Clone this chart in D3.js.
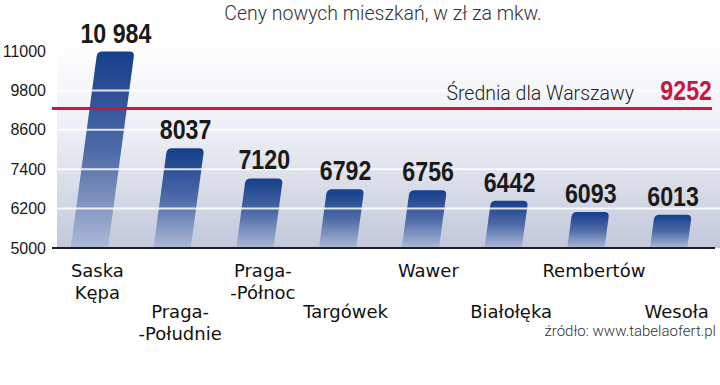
<!DOCTYPE html>
<html>
<head>
<meta charset="utf-8">
<script src="https://cdn.jsdelivr.net/npm/d3@7"></script>
<style>
  html, body { margin: 0; padding: 0; background: #fff; }
  svg { display: block; }
</style>
</head>
<body>
<svg id="chart" width="720" height="385"></svg>
<script>
// Data
const districts = ["Saska Kępa", "Praga-Południe", "Praga-Północ", "Targówek", "Wawer", "Białołęka", "Rembertów", "Wesoła"];
const labelLines = [["Saska", "Kępa"], ["Praga-", "-Południe"], ["Praga-", "-Północ"], ["Targówek"], ["Wawer"], ["Białołęka"], ["Rembertów"], ["Wesoła"]];
const prices = [10984, 8037, 7120, 6792, 6756, 6442, 6093, 6013];
const priceLabels = ["10 984", "8037", "7120", "6792", "6756", "6442", "6093", "6013"];
const yTicks = [5000, 6200, 7400, 8600, 9800, 11000];
const average = 9252;
const title = "Ceny nowych mieszkań, w zł za mkw.";
const avgLabel = "Średnia dla Warszawy";
const source = "źródło: www.tabelaofert.pl";

const W = 720, H = 385;
const base = 248;
const slope = 0.135; // bars lean right
const narrow = 0.86; // squeeze for the condensed bold numbers
const numFont = "bold 27px 'Liberation Sans', Arial, sans-serif";

const svg = d3.select("#chart");

const x = d3.scaleBand()
  .domain(districts)
  .range([48, 710])
  .paddingInner(0.55)
  .paddingOuter(0.275);

const y = d3.scaleLinear()
  .domain([5000, 11000])
  .range([base, 51]);

const defs = svg.append("defs");

const bg = defs.append("linearGradient")
  .attr("id", "bg")
  .attr("gradientUnits", "userSpaceOnUse")
  .attr("x1", 0).attr("x2", 0)
  .attr("y1", 40).attr("y2", base);
bg.append("stop").attr("offset", 0).attr("stop-color", "#ffffff");
bg.append("stop").attr("offset", 0.45).attr("stop-color", "#eceef4");
bg.append("stop").attr("offset", 1).attr("stop-color", "#c2c8db");

const barGrad = defs.append("linearGradient")
  .attr("id", "bar")
  .attr("x1", 0).attr("x2", 0)
  .attr("y1", 0).attr("y2", 1);
barGrad.append("stop").attr("offset", 0).attr("stop-color", "#163e8b");
barGrad.append("stop").attr("offset", 0.5).attr("stop-color", "#4d6aa7");
barGrad.append("stop").attr("offset", 1).attr("stop-color", "#adb9d6");

// panel background
svg.append("rect")
  .attr("x", 57)
  .attr("y", 40)
  .attr("width", W - 57)
  .attr("height", base - 40)
  .attr("fill", "url(#bg)");

// title
svg.append("text")
  .attr("x", 383)
  .attr("y", 20)
  .attr("text-anchor", "middle")
  .style("font", "300 19.5px Roboto")
  .attr("fill", "#333")
  .text(title);

// y axis labels
const yAxis = svg.append("g")
  .attr("transform", "translate(46,0)")
  .call(d3.axisLeft(y).tickValues(yTicks).tickSize(0).tickPadding(0).tickFormat(d3.format("d")));
yAxis.select(".domain").remove();
yAxis.selectAll("text")
  .style("font", "16px 'Liberation Sans', Arial, sans-serif")
  .attr("fill", "#1a1a1a");

// bars
const bw = x.bandwidth();
const r = 5;
function barPath(d, i) {
  const x0 = x(districts[i]);
  const yt = y(d);
  const h = base - yt;
  const dx = h * slope;
  const bl = x0, br = x0 + bw;
  const tl = x0 + dx, tr = x0 + bw + dx;
  return `M${bl},${base}` +
    `L${tl - slope * r},${yt + r}` +
    `Q${tl},${yt} ${tl + r},${yt}` +
    `L${tr - r},${yt}` +
    `Q${tr},${yt} ${tr - slope * r},${yt + r}` +
    `L${br},${base}Z`;
}

svg.append("g")
  .selectAll("path")
  .data(prices)
  .join("path")
  .attr("d", (d, i) => barPath(d, i))
  .attr("fill", "url(#bar)");

// gridlines (white, over the bars)
svg.append("g")
  .selectAll("line")
  .data(yTicks.filter(t => t > 5000 && t < 11000))
  .join("line")
  .attr("x1", 57)
  .attr("x2", W)
  .attr("y1", d => y(d))
  .attr("y2", d => y(d))
  .attr("stroke", "#fff")
  .attr("stroke-opacity", 0.85)
  .attr("stroke-width", 2);

// baseline
svg.append("line")
  .attr("x1", 52).attr("x2", 715)
  .attr("y1", base).attr("y2", base)
  .attr("stroke", "#1b1d2e")
  .attr("stroke-width", 2);

// average line
svg.append("line")
  .attr("x1", 52).attr("x2", 712)
  .attr("y1", y(average)).attr("y2", y(average))
  .attr("stroke", "#c8173f")
  .attr("stroke-width", 3);

svg.append("text")
  .attr("x", 634)
  .attr("y", y(average) - 8)
  .attr("text-anchor", "end")
  .style("font", "300 19.5px Roboto")
  .attr("fill", "#222")
  .text(avgLabel);

svg.append("text")
  .attr("transform", `translate(712,${y(average) - 8}) scale(${narrow},1)`)
  .attr("text-anchor", "end")
  .style("font", numFont)
  .attr("fill", "#c8173f")
  .text(average);

// value labels
svg.append("g")
  .selectAll("text")
  .data(prices)
  .join("text")
  .attr("transform", (d, i) => {
    const cx = x(districts[i]) + bw / 2 + (base - y(d)) * slope;
    return `translate(${cx},${y(d) - 9}) scale(${narrow},1)`;
  })
  .attr("text-anchor", "middle")
  .style("font", numFont)
  .attr("fill", "#1a1a1a")
  .text((d, i) => priceLabels[i]);

// category labels, staggered in two rows
const lbl = svg.append("g")
  .selectAll("text")
  .data(labelLines)
  .join("text")
  .attr("x", (d, i) => x(districts[i]) + bw / 2 + 8)
  .attr("y", (d, i) => i % 2 === 0 ? 277 : 318)
  .attr("text-anchor", "middle")
  .style("font", "18px 'DejaVu Sans', sans-serif")
  .attr("fill", "#111");
lbl.selectAll("tspan")
  .data((d, i) => d.map(s => ({ s, i })))
  .join("tspan")
  .attr("x", d => x(districts[d.i]) + bw / 2 + 8)
  .attr("dy", (d, j) => j === 0 ? 0 : 21.5)
  .text(d => d.s);

// source
svg.append("text")
  .attr("x", 716)
  .attr("y", 336)
  .attr("text-anchor", "end")
  .style("font", "300 15px Roboto")
  .attr("fill", "#333")
  .text(source);
</script>
</body>
</html>
